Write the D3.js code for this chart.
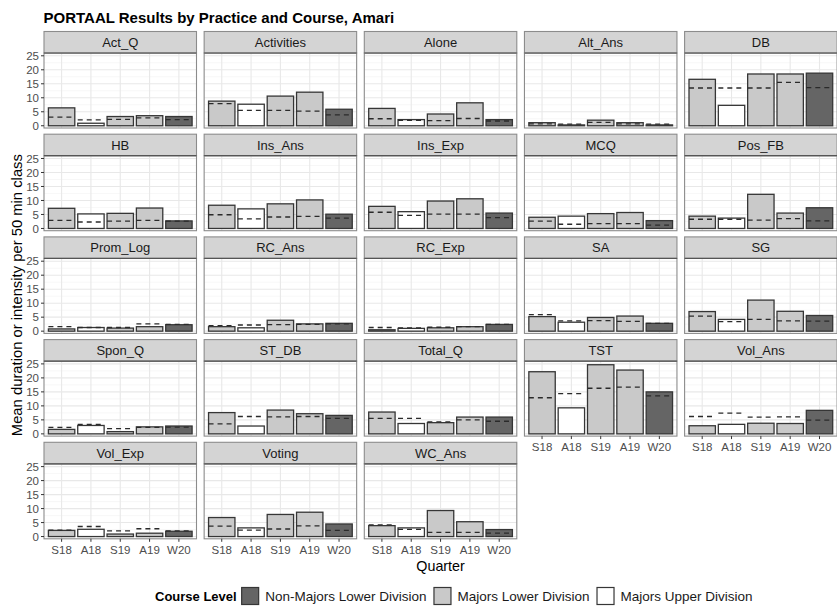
<!DOCTYPE html>
<html>
<head>
<meta charset="utf-8">
<script src="https://cdn.jsdelivr.net/npm/d3@7"></script>
<style>
  html, body { margin: 0; padding: 0; background: #ffffff; }
  svg { display: block; font-family: "Liberation Sans", Arial, Helvetica, sans-serif; }
</style>
</head>
<body>
<svg id="chart" width="837" height="606"></svg>
<script>
// ---------------- data ----------------
const practices = ["Act_Q","Activities","Alone","Alt_Ans","DB",
                   "HB","Ins_Ans","Ins_Exp","MCQ","Pos_FB",
                   "Prom_Log","RC_Ans","RC_Exp","SA","SG",
                   "Spon_Q","ST_DB","Total_Q","TST","Vol_Ans",
                   "Vol_Exp","Voting","WC_Ans"];
const quarters = ["S18","A18","S19","A19","W20"];
const quarterLevel = ["Majors Lower Division","Majors Upper Division","Majors Lower Division",
                      "Majors Lower Division","Non-Majors Lower Division"];
// bar heights (mean per quarter), one row per practice, in quarter order
const barValues = [
  [6.4, 0.9, 3.3, 3.6, 3.3],    // Act_Q
  [8.8, 7.7, 10.6, 12.0, 5.9],  // Activities
  [6.2, 2.2, 4.2, 8.2, 2.2],    // Alone
  [1.1, 0.3, 2.0, 1.1, 0.3],    // Alt_Ans
  [16.6, 7.3, 18.5, 18.5, 18.8],// DB
  [7.2, 5.2, 5.4, 7.3, 2.7],    // HB
  [8.3, 7.0, 8.8, 10.2, 5.1],   // Ins_Ans
  [7.9, 6.0, 9.8, 10.6, 5.5],   // Ins_Exp
  [4.0, 4.4, 5.3, 5.7, 2.8],    // MCQ
  [4.4, 3.7, 12.2, 5.5, 7.4],   // Pos_FB
  [0.8, 1.3, 1.1, 1.6, 2.3],    // Prom_Log
  [1.6, 1.2, 3.9, 2.6, 2.8],    // RC_Ans
  [0.5, 1.0, 1.2, 1.6, 2.4],    // RC_Exp
  [5.2, 3.2, 4.9, 5.4, 2.8],    // SA
  [7.0, 4.2, 11.1, 7.1, 5.6],   // SG
  [1.6, 3.0, 0.8, 2.5, 2.8],    // Spon_Q
  [7.6, 2.8, 8.5, 7.2, 6.6],    // ST_DB
  [7.8, 3.7, 4.0, 6.0, 6.0],    // Total_Q
  [22.2, 9.3, 24.7, 22.8, 15.0],// TST
  [2.9, 3.4, 3.8, 3.7, 8.4],    // Vol_Ans
  [2.2, 2.6, 0.9, 1.2, 1.9],    // Vol_Exp
  [6.8, 3.1, 7.9, 8.7, 4.5],    // Voting
  [3.9, 3.1, 9.3, 5.3, 2.5]     // WC_Ans
];
// dashed reference lines, one row per practice, in quarter order
const dashValues = [
  [3.1, 2.1, 2.3, 2.8, 2.2],
  [7.9, 5.5, 5.5, 5.2, 3.9],
  [2.5, 1.9, 1.8, 2.6, 1.7],
  [0.7, 0.6, 1.2, 0.7, 0.6],
  [13.5, 13.5, 13.5, 15.5, 13.6],
  [2.9, 2.3, 2.6, 2.9, 2.6],
  [4.9, 3.4, 4.1, 4.3, 3.7],
  [5.8, 4.7, 5.1, 5.1, 3.9],
  [2.6, 1.5, 1.7, 1.7, 1.2],
  [3.3, 3.3, 3.0, 3.5, 2.7],
  [1.6, 1.3, 1.3, 2.6, 2.4],
  [2.0, 2.2, 2.3, 2.4, 2.6],
  [1.3, 1.2, 1.4, 1.6, 2.4],
  [5.9, 3.7, 3.8, 3.5, 2.8],
  [5.4, 3.4, 4.2, 3.7, 3.6],
  [2.3, 3.4, 1.9, 2.3, 2.4],
  [3.6, 6.2, 6.1, 6.2, 5.5],
  [5.5, 5.5, 4.3, 5.0, 4.5],
  [12.9, 14.4, 16.3, 16.7, 13.6],
  [6.2, 7.4, 6.0, 6.1, 4.9],
  [2.3, 3.6, 2.0, 2.8, 2.0],
  [3.7, 2.3, 2.7, 3.8, 2.2],
  [4.2, 2.6, 1.5, 1.5, 1.2]
];
const yTicks = [0, 5, 10, 15, 20, 25];
const yMinorTicks = [2.5, 7.5, 12.5, 17.5, 22.5];
const legendLevels = ["Non-Majors Lower Division", "Majors Lower Division", "Majors Upper Division"];
const legendFills = ["#656565", "#c9c9c9", "#ffffff"];
const titleText = "PORTAAL Results by Practice and Course, Amari";
const yTitle = "Mean duration or intensity per 50 min class";
const xTitle = "Quarter";
const legendTitle = "Course Level";

// ---------------- layout ----------------
const svg = d3.select("#chart");
const nCols = 5;
const colX0 = 44, colStep = 160.15, panelW = 152.5;
const rowY0 = 31.5, rowStep = 102.7, stripH = 21.5, plotH = 75;

const fill = d3.scaleOrdinal().domain(legendLevels).range(legendFills);
const x = d3.scaleBand().domain(quarters).range([0, panelW]).paddingInner(0.1).paddingOuter(0.15);
const y = d3.scaleLinear().domain([-0.8, 26.0]).range([plotH, 0]);

svg.append("text").attr("x", 43.5).attr("y", 23)
  .attr("font-size", 15).attr("font-weight", "bold").attr("fill", "#000")
  .text(titleText);

const nRows = Math.ceil(practices.length / nCols);

practices.forEach((p, i) => {
  const col = i % nCols, row = Math.floor(i / nCols);
  const px = colX0 + col * colStep;
  const sy = rowY0 + row * rowStep;
  const py = sy + stripH;
  const g = svg.append("g").attr("transform", `translate(${px},${py})`);

  g.append("rect").attr("width", panelW).attr("height", plotH).attr("fill", "#fff");
  g.selectAll(".ymin").data(yMinorTicks).enter().append("line")
    .attr("x1", 0).attr("x2", panelW).attr("y1", d => y(d)).attr("y2", d => y(d))
    .attr("stroke", "#f2f2f2").attr("stroke-width", 0.6);
  g.selectAll(".ymaj").data(yTicks).enter().append("line")
    .attr("x1", 0).attr("x2", panelW).attr("y1", d => y(d)).attr("y2", d => y(d))
    .attr("stroke", "#e8e8e8").attr("stroke-width", 1.1);
  g.selectAll(".xmaj").data(quarters).enter().append("line")
    .attr("x1", d => x(d) + x.bandwidth() / 2).attr("x2", d => x(d) + x.bandwidth() / 2)
    .attr("y1", 0).attr("y2", plotH)
    .attr("stroke", "#e8e8e8").attr("stroke-width", 1.1);

  const vals = quarters.map((q, k) => ({q, v: barValues[i][k], d: dashValues[i][k], lvl: quarterLevel[k]}));
  g.selectAll(".bar").data(vals).enter().append("rect")
    .attr("x", d => x(d.q)).attr("width", x.bandwidth())
    .attr("y", d => y(d.v)).attr("height", d => y(0) - y(d.v))
    .attr("fill", d => fill(d.lvl)).attr("stroke", "#363636").attr("stroke-width", 1.3);
  g.selectAll(".dash").data(vals).enter().append("line")
    .attr("x1", d => x(d.q)).attr("x2", d => x(d.q) + x.bandwidth())
    .attr("y1", d => y(d.d)).attr("y2", d => y(d.d))
    .attr("stroke", "#2a2a2a").attr("stroke-width", 1.3).attr("stroke-dasharray", "5,4");

  g.append("rect").attr("width", panelW).attr("height", plotH)
    .attr("fill", "none").attr("stroke", "#8c8c8c").attr("stroke-width", 1.1);

  const sg = svg.append("g").attr("transform", `translate(${px},${sy})`);
  sg.append("rect").attr("width", panelW).attr("height", stripH)
    .attr("fill", "#d4d4d4").attr("stroke", "#8c8c8c").attr("stroke-width", 1.1);
  sg.append("line").attr("x1", 0).attr("x2", panelW).attr("y1", stripH).attr("y2", stripH)
    .attr("stroke", "#555").attr("stroke-width", 1.2);
  sg.append("text").attr("x", panelW / 2).attr("y", stripH / 2 + 4.6)
    .attr("text-anchor", "middle").attr("font-size", 13).attr("fill", "#1a1a1a").text(p);

  if (col === 0) {
    const ya = svg.append("g").attr("transform", `translate(${px},${py})`);
    ya.selectAll("line").data(yTicks).enter().append("line")
      .attr("x1", -3).attr("x2", 0).attr("y1", d => y(d)).attr("y2", d => y(d))
      .attr("stroke", "#333").attr("stroke-width", 1);
    ya.selectAll("text").data(yTicks).enter().append("text")
      .attr("x", -5).attr("y", d => y(d)).attr("dy", "0.36em")
      .attr("text-anchor", "end").attr("font-size", 11.5).attr("fill", "#4d4d4d").text(d => d);
  }
  const below = i + nCols;
  if (below >= practices.length) {
    const xa = svg.append("g").attr("transform", `translate(${px},${py + plotH})`);
    xa.selectAll("line").data(quarters).enter().append("line")
      .attr("x1", d => x(d) + x.bandwidth() / 2).attr("x2", d => x(d) + x.bandwidth() / 2)
      .attr("y1", 0).attr("y2", 3).attr("stroke", "#333").attr("stroke-width", 1);
    xa.selectAll("text").data(quarters).enter().append("text")
      .attr("x", d => x(d) + x.bandwidth() / 2).attr("y", 14.8)
      .attr("text-anchor", "middle").attr("font-size", 11.5).attr("fill", "#4d4d4d").text(d => d);
  }
});

const panelsLeft = colX0, panelsRight = colX0 + (nCols - 1) * colStep + panelW;
const panelsTop = rowY0, panelsBottom = rowY0 + (nRows - 1) * rowStep + stripH + plotH;
svg.append("text")
  .attr("transform", `translate(21.5,${(panelsTop + panelsBottom) / 2 + 10}) rotate(-90)`)
  .attr("text-anchor", "middle").attr("font-size", 14.8).attr("fill", "#000").text(yTitle);
svg.append("text").attr("x", (panelsLeft + panelsRight) / 2).attr("y", 571)
  .attr("text-anchor", "middle").attr("font-size", 14.3).attr("fill", "#000").text(xTitle);

// legend
const lg = svg.append("g");
let lx = 155;
const ly = 601;
const lt = lg.append("text").attr("x", lx).attr("y", ly).attr("font-size", 13)
  .attr("font-weight", "bold").attr("fill", "#000").text(legendTitle);
lx += lt.node().getComputedTextLength() + 5;
legendLevels.forEach((lvl, k) => {
  lg.append("rect").attr("x", lx).attr("y", ly - 13.5).attr("width", 17).attr("height", 17)
    .attr("fill", fill(lvl)).attr("stroke", "#363636").attr("stroke-width", 1.2);
  lx += 17 + 6.5;
  const t = lg.append("text").attr("x", lx).attr("y", ly).attr("font-size", 13.5)
    .attr("fill", "#1a1a1a").text(lvl);
  lx += t.node().getComputedTextLength() + 7.5;
});
</script>
</body>
</html>
